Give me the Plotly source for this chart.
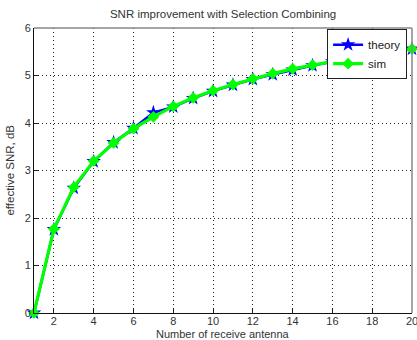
import plotly.graph_objects as go

antennas = list(range(1, 21))
theory = [0, 1.76, 2.63, 3.19, 3.59, 3.89, 4.22, 4.34, 4.52, 4.67,
          4.80, 4.92, 5.02, 5.12, 5.21, 5.29, 5.37, 5.43, 5.50, 5.56]
sim = [0, 1.77, 2.65, 3.20, 3.58, 3.88, 4.13, 4.35, 4.53, 4.68,
       4.81, 4.93, 5.04, 5.14, 5.22, 5.30, 5.37, 5.44, 5.50, 5.56]
x_ticks = [2, 4, 6, 8, 10, 12, 14, 16, 18, 20]
y_ticks = [0, 1, 2, 3, 4, 5, 6]

fig = go.Figure()
fig.add_trace(go.Scatter(
    x=antennas, y=theory, name="theory", mode="lines+markers",
    line=dict(color="#0000ff", width=2.5),
    marker=dict(symbol="star", size=11, color="#0000ff"),
    cliponaxis=False,
))
fig.add_trace(go.Scatter(
    x=antennas, y=sim, name="sim", mode="lines+markers",
    line=dict(color="#00ff00", width=3.2),
    marker=dict(symbol="diamond", size=9, color="#00ff00"),
    cliponaxis=False,
))

axis_common = dict(
    showgrid=True, gridcolor="#222222", griddash="1px,3px", gridwidth=1,
    ticks="inside", ticklen=4, tickcolor="#222222",
    showline=True, linecolor="#111111", linewidth=1, zeroline=False,
    tickfont=dict(size=11, color="#333333"), automargin=False,
    ticklabeloverflow="allow",
)

fig.update_xaxes(range=[1, 20], tickvals=x_ticks, ticklabelstandoff=-2, **axis_common)
fig.update_yaxes(range=[0, 6], tickvals=y_ticks, **axis_common)

fig.add_shape(type="line", xref="paper", yref="paper", x0=0, x1=1, y0=1, y1=1,
              line=dict(color="#888888", width=1.5))
fig.add_shape(type="line", xref="paper", yref="paper", x0=1, x1=1, y0=0, y1=1,
              line=dict(color="#888888", width=1.5))

fig.add_annotation(text="Number of receive antenna", xref="paper", yref="paper",
                   x=0.5, y=-0.072, xanchor="center", yanchor="middle",
                   showarrow=False, font=dict(size=11, color="#333333"))
fig.add_annotation(text="effective SNR, dB", xref="paper", yref="paper",
                   x=-0.066, y=0.5, xanchor="center", yanchor="middle",
                   textangle=-90, showarrow=False,
                   font=dict(size=11.5, color="#333333"))

fig.update_layout(
    width=417, height=340,
    margin=dict(l=34, r=5, t=28, b=27, autoexpand=False),
    paper_bgcolor="white", plot_bgcolor="white",
    font=dict(family="Liberation Sans, Arial, sans-serif", color="#333333"),
    title=dict(text="SNR improvement with Selection Combining",
               x=0.535, xanchor="center", y=0.96, yanchor="middle",
               font=dict(size=11.5, color="#333333")),
    legend=dict(x=0.987, xanchor="right", y=0.996, yanchor="top",
                bordercolor="#222222", borderwidth=1, bgcolor="white",
                font=dict(size=11.5, color="#222222"),
                itemwidth=30, tracegroupgap=0),
    showlegend=True,
)

fig.write_html("out.html", config={"displayModeBar": False},
               post_script="document.body.style.margin='0';")
